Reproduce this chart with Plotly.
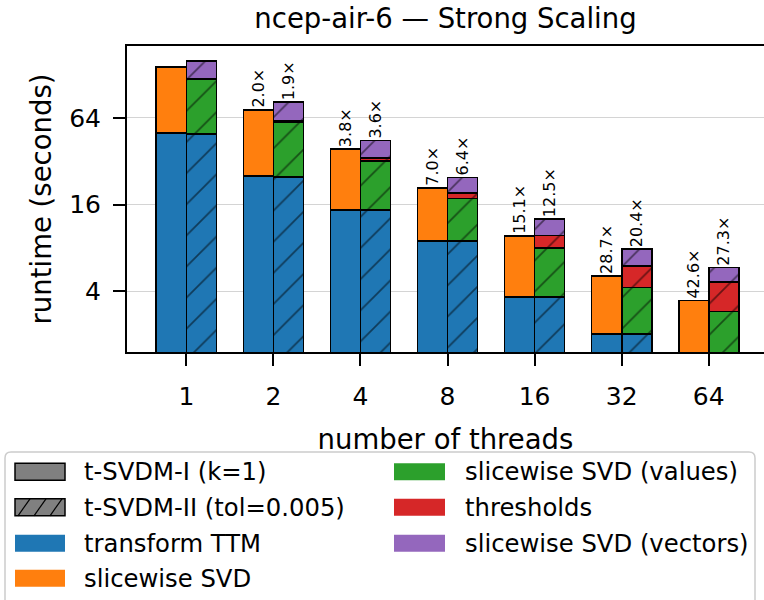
import numpy as np
import plotly.graph_objects as go

# ---------------- data ----------------
threads = ["1", "2", "4", "8", "16", "32", "64"]
ttm_I = [50.1, 25.4, 14.65, 8.96, 3.65, 2.01, 1.25]
svd_I = [95.5, 47.7, 24.2, 12.0, 6.06, 3.10, 2.20]
ttm_II = [49.3, 24.9, 14.65, 8.96, 3.65, 2.01, 1.25]
values_II = [70.3, 35.4, 17.5, 8.7, 4.36, 2.23, 1.64]
thresholds_II = [0.3, 0.5, 1.4, 1.66, 1.76, 1.73, 1.75]
vectors_II = [39.2, 21.5, 11.0, 5.4, 2.91, 1.87, 1.21]
speedup_I = ["", "2.0×", "3.8×", "7.0×", "15.1×", "28.7×", "42.6×"]
speedup_II = ["", "1.9×", "3.6×", "6.4×", "12.5×", "20.4×", "27.3×"]
y_ticks = [4, 16, 64]
legend_col1 = ["t-SVDM-I (k=1)", "t-SVDM-II (tol=0.005)", "transform TTM", "slicewise SVD"]
legend_col2 = ["slicewise SVD (values)", "thresholds", "slicewise SVD (vectors)"]

# ---------------- styles ----------------
FONT = "DejaVu Sans"
C_BLUE, C_ORANGE, C_GREEN, C_RED, C_PURPLE, C_GRAY = (
    "#1f77b4", "#ff7f0e", "#2ca02c", "#d62728", "#9467bd", "#808080")
W, H = 764, 600
L, R, T, B = 127, 0, 46, 248
PW, PH = W - L - R, H - T - B


def px(x):
    return (x - L) / PW


def py(y):
    return (H - B - y) / PH


BW = 0.345
idx = np.arange(len(threads))
x_I = idx - BW / 2
x_II = idx + BW / 2
HATCH = dict(shape="/", fgcolor="black", size=22, solidity=0.08)
EDGE = dict(color="black", width=1.7)

fig = go.Figure()


def add_bar(x, y, color, hatched):
    marker = dict(color=color, line=EDGE)
    if hatched:
        marker["pattern"] = dict(HATCH, bgcolor=color)
    fig.add_trace(go.Bar(x=x, y=y, width=BW, marker=marker, showlegend=False))


add_bar(x_I, ttm_I, C_BLUE, False)
add_bar(x_I, svd_I, C_ORANGE, False)
add_bar(x_II, ttm_II, C_BLUE, True)
add_bar(x_II, values_II, C_GREEN, True)
add_bar(x_II, thresholds_II, C_RED, True)
add_bar(x_II, vectors_II, C_PURPLE, True)

tot_I = np.array(ttm_I) + np.array(svd_I)
tot_II = (np.array(ttm_II) + np.array(values_II) + np.array(thresholds_II)
          + np.array(vectors_II))

annotations = []
for xs, tots, labels in ((x_I, tot_I, speedup_I), (x_II, tot_II, speedup_II)):
    for xv, tv, lab in zip(xs, tots, labels):
        if not lab:
            continue
        annotations.append(dict(x=float(xv), y=float(np.log10(tv)), xref="x", yref="y",
                                text=lab, textangle=-90, showarrow=False,
                                xanchor="center", yanchor="bottom",
                                font=dict(family=FONT, size=16, color="black")))

# ---------------- manual legend ----------------
shapes = []
bx0, by0, bx1, by1, rr = 5, 452, 755, 606, 6
pts = [("M", bx0 + rr, by0), ("L", bx1 - rr, by0), ("Q", bx1, by0, bx1, by0 + rr),
       ("L", bx1, by1 - rr), ("Q", bx1, by1, bx1 - rr, by1), ("L", bx0 + rr, by1),
       ("Q", bx0, by1, bx0, by1 - rr), ("L", bx0, by0 + rr), ("Q", bx0, by0, bx0 + rr, by0)]
path = ""
for p in pts:
    if p[0] == "Q":
        path += f"Q{px(p[1])},{py(p[2])} {px(p[3])},{py(p[4])} "
    else:
        path += f"{p[0]}{px(p[1])},{py(p[2])} "
path += "Z"
shapes.append(dict(type="path", xref="paper", yref="paper", path=path,
                   line=dict(color="#cccccc", width=1.5), fillcolor="white"))

rows = [471.7, 507.3, 543.3, 578.3]
hh = 8.5
col1_colors = [C_GRAY, C_GRAY, C_BLUE, C_ORANGE]
col1_edge = [True, True, False, False]
for i, (lab, col, edge) in enumerate(zip(legend_col1, col1_colors, col1_edge)):
    shapes.append(dict(type="rect", xref="paper", yref="paper",
                       x0=px(15), x1=px(65), y0=py(rows[i] + hh), y1=py(rows[i] - hh),
                       fillcolor=col,
                       line=dict(color="black" if edge else col, width=1.5 if edge else 0)))
    annotations.append(dict(x=px(81.5), y=py(rows[i]), xref="paper", yref="paper",
                            text=lab, showarrow=False, xanchor="left", yanchor="middle",
                            font=dict(family=FONT, size=24.3, color="black")))
# hatch lines in the t-SVDM-II legend swatch
for hx in (18, 34, 50):
    shapes.append(dict(type="line", xref="paper", yref="paper",
                       x0=px(hx), y0=py(rows[1] + hh), x1=px(hx + 12), y1=py(rows[1] - hh),
                       line=dict(color="black", width=1.2)))

col2_colors = [C_GREEN, C_RED, C_PURPLE]
for i, (lab, col) in enumerate(zip(legend_col2, col2_colors)):
    shapes.append(dict(type="rect", xref="paper", yref="paper",
                       x0=px(394), x1=px(445), y0=py(rows[i] + hh), y1=py(rows[i] - hh),
                       fillcolor=col, line=dict(color=col, width=0)))
    annotations.append(dict(x=px(462.5), y=py(rows[i]), xref="paper", yref="paper",
                            text=lab, showarrow=False, xanchor="left", yanchor="middle",
                            font=dict(family=FONT, size=24.3, color="black")))

fig.update_layout(
    width=W, height=H,
    margin=dict(l=L, r=R, t=T, b=B, pad=0),
    barmode="stack",
    plot_bgcolor="white", paper_bgcolor="white",
    font=dict(family=FONT, color="black"),
    title=dict(text="ncep-air-6 — Strong Scaling", x=0.5, xref="paper", xanchor="center",
               y=1 - 18 / H, yref="container", yanchor="middle",
               font=dict(family=FONT, size=27.5, color="black")),
    xaxis=dict(range=[-0.682, 6.635], tickmode="array", tickvals=list(idx), ticktext=threads,
               showline=True, linecolor="black", linewidth=2, mirror=True,
               ticks="outside", ticklen=12, tickwidth=2, tickcolor="black",
               tickfont=dict(size=25), ticklabelstandoff=9, showgrid=False, zeroline=False,
               title=dict(text="number of threads", font=dict(size=27.5), standoff=20)),
    yaxis=dict(type="log", range=[0.1788, 2.3068], tickmode="array", tickvals=y_ticks,
               ticktext=[str(v) for v in y_ticks],
               showline=True, linecolor="black", linewidth=2, mirror=False,
               ticks="outside", ticklen=12, tickwidth=2, tickcolor="black",
               tickfont=dict(size=25), ticklabelstandoff=7,
               showgrid=True, gridcolor="#d4d4d4", gridwidth=1, zeroline=False,
               title=dict(text="runtime (seconds)", font=dict(size=27.5), standoff=10)),
    shapes=shapes,
    annotations=annotations,
)

fig.write_html("out.html")
